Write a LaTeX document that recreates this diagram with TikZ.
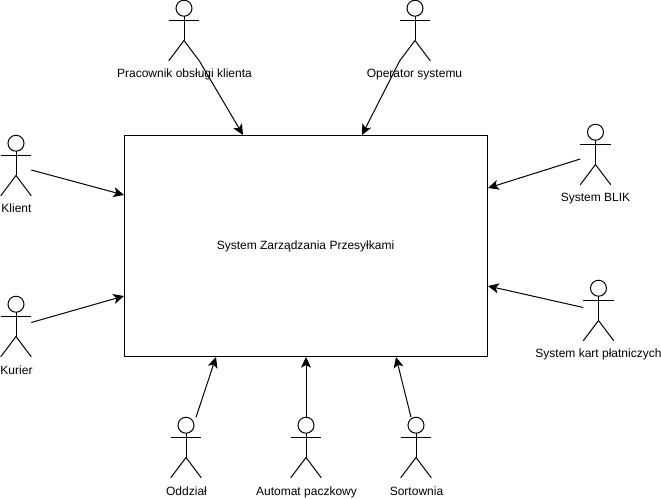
\documentclass[tikz,border=0pt]{standalone}
\usepackage{fontspec}
\setmainfont{Liberation Sans}
\usetikzlibrary{arrows.meta,calc}
\tikzset{
  x=0.75pt,y=-0.75pt,
  every node/.style={font=\fontsize{9}{11}\selectfont,text=black,inner sep=0pt},
  lbl/.style={anchor=base},
  line/.style={draw=black,line width=0.75pt},
  arr/.style={line,-{Stealth[length=8pt,width=7.5pt,inset=2pt]}},
  actorbox/.style={minimum width=22.5pt,minimum height=45pt,draw=none},
  sysbox/.style={line,minimum width=272.25pt,minimum height=165.75pt,anchor=north west}
}
\newcommand{\actorfig}[3]{% name, centre x, top y
  \node[actorbox] (#1) at (#2,#3+30) {};
  \draw[line] ($(#1.north)+(0,8)$) circle (6pt);
  \draw[line] ($(#1.north)+(0,16)$) -- ($(#1.center)+(0,10)$);
  \draw[line] ($(#1.north west)+(0,20)$) -- ($(#1.north east)+(0,20)$);
  \draw[line] (#1.south west) -- ($(#1.center)+(0,10)$) -- (#1.south east);
}
\begin{document}
\begin{tikzpicture}
\useasboundingbox (0,0) rectangle (661,499);
\node[sysbox] (box) at (124,135) {};
\node[lbl] (boxlabel) at (305.5,250) {System Zarządzania Przesyłkami};

\actorfig{pr}{184}{0.5}
\actorfig{op}{415}{0.5}
\actorfig{kl}{16}{135.5}
\actorfig{ku}{16}{296.5}
\actorfig{bl}{595.5}{124.5}
\actorfig{ka}{598.5}{280.5}
\actorfig{od}{186}{417.5}
\actorfig{au}{306}{417.5}
\actorfig{so}{416}{417.5}

\node[lbl] (prl) at (184.5,78) {Pracownik obsługi klienta};
\node[lbl] (opl) at (414.5,78) {Operator systemu};
\node[lbl] (kll) at (16.5,213) {Klient};
\node[lbl] (kul) at (16.5,374) {Kurier};
\node[lbl] (bll) at (595.5,202) {System BLIK};
\node[lbl] (kal) at (598.5,358) {System kart płatniczych};
\node[lbl] (odl) at (186.5,495) {Oddział};
\node[lbl] (aul) at (306.5,495) {Automat paczkowy};
\node[lbl] (sol) at (416.5,495) {Sortownia};

\draw[arr] (pr.south east) -- ($(box.north west)+(119,0)$);
\draw[arr] (op.south west) -- ($(box.north west)+(238,0)$);
\draw[arr] ($(kl.east)+(0,4.5)$) -- ($(box.north west)+(0,60)$);
\draw[arr] ($(ku.east)+(0,-4)$) -- ($(box.north west)+(0,161)$);
\draw[arr] ($(bl.west)+(0,4.5)$) -- ($(box.north east)+(0,53)$);
\draw[arr] ($(ka.west)+(0,-3)$) -- ($(box.north east)+(0,151)$);
\draw[arr] ($(od.north)+(10,0)$) -- ($(box.south west)+(92,0)$);
\draw[arr] (au.north) -- ($(box.south west)+(182,0)$);
\draw[arr] ($(so.north)+(-5,0)$) -- ($(box.south west)+(272,0)$);
\end{tikzpicture}
\end{document}
